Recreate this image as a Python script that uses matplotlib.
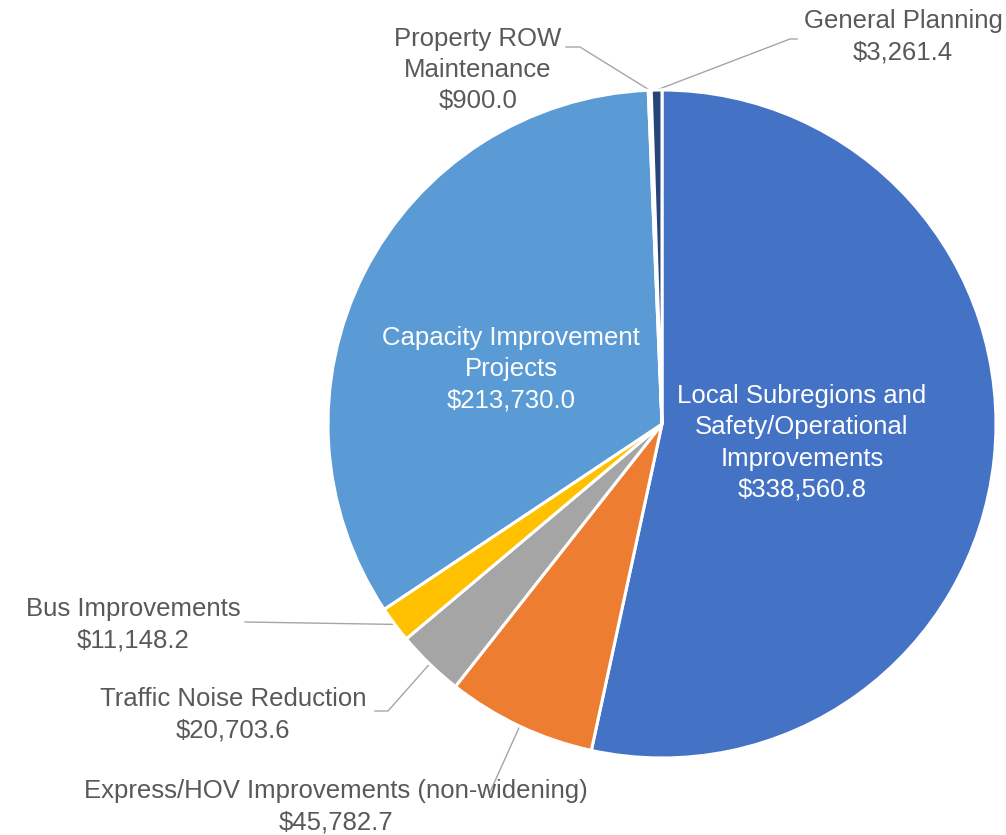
import numpy as np
import matplotlib
matplotlib.use("Agg")
import matplotlib.pyplot as plt

# budget categories, clockwise from 12 o'clock
categories = [
    "Local Subregions and\nSafety/Operational\nImprovements",
    "Express/HOV Improvements (non-widening)",
    "Traffic Noise Reduction",
    "Bus Improvements",
    "Capacity Improvement\nProjects",
    "Property ROW\nMaintenance",
    "General Planning",
]
amounts = [338560.8, 45782.7, 20703.6, 11148.2, 213730.0, 900.0, 3261.4]
colors = ["#4472C4", "#ED7D31", "#A5A5A5", "#FFC000", "#5B9BD5", "#264478", "#264478"]

W, H = 1006, 835
fig = plt.figure(figsize=(W / 100, H / 100), dpi=100)
ax = fig.add_axes([0, 0, 1, 1])

cx, cy, r = 662, H - 424, 334
wedges, _ = ax.pie(amounts, colors=colors, startangle=90, counterclock=False,
                   center=(cx, cy), radius=r,
                   wedgeprops=dict(edgecolor="white", linewidth=2.2))
ax.set_xlim(0, W)
ax.set_ylim(0, H)
ax.set_aspect("equal")
ax.axis("off")

plt.rcParams["font.family"] = ["Liberation Sans", "DejaVu Sans"]
fs = 18.5
grey = "#595959"


def edge_point(w):
    ang = np.deg2rad((w.theta1 + w.theta2) / 2)
    return cx + r * np.cos(ang), cy + r * np.sin(ang)


def label(i, x, y, color=grey):
    txt = categories[i] + "\n" + "${:,.1f}".format(amounts[i])
    ax.text(x, H - y, txt, ha="center", va="center", fontsize=fs,
            color=color, linespacing=1.38)


def leader(i, pts):
    ex, ey = edge_point(wedges[i])
    xs = [p[0] for p in pts] + [ex]
    ys = [H - p[1] for p in pts] + [ey]
    ax.plot(xs, ys, color="#A6A6A6", lw=1.0, zorder=0.5)


# labels inside the two big slices
label(0, 802, 443, "white")
label(4, 511, 369, "white")

# labels outside with leader lines
label(1, 336, 807)
leader(1, [(490, 792)])
label(2, 233, 715)
leader(2, [(375, 711), (388, 711)])
label(3, 133, 625)
leader(3, [(245, 622)])
label(5, 478, 70)
leader(5, [(566, 47), (580, 47)])
label(6, 903, 37)
leader(6, [(797, 39), (790, 39)])

fig.savefig("out.png", dpi=100)
